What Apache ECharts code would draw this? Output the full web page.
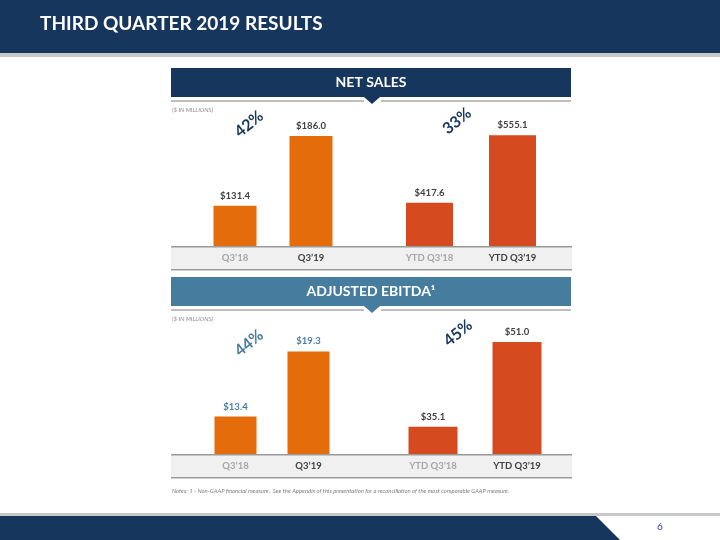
<!DOCTYPE html>
<html><head><meta charset="utf-8">
<script src="https://cdn.jsdelivr.net/npm/echarts@6/dist/echarts.min.js"></script>
<style>html,body{margin:0;padding:0;background:#fff}#c{width:720px;height:540px}</style>
</head><body><div id="c"></div>
<script>
// ---- data ----
var qtrCategories = ['Q3\u201918', 'Q3\u201919'];
var ytdCategories = ['YTD Q3\u201918', 'YTD Q3\u201919'];
var netSalesQtr = [131.4, 186.0];
var netSalesYtd = [417.6, 555.1];
var ebitdaQtr = [13.4, 19.3];
var ebitdaYtd = [35.1, 51.0];
var growthLabels = ['42%', '33%', '44%', '45%'];
var titleText = 'THIRD QUARTER 2019 RESULTS';
var panelTitles = ['NET SALES', 'ADJUSTED EBITDA\u00b9'];
var unitsText = '($ IN MILLIONS)';
var notesText = 'Notes: 1 - Non-GAAP financial measure.  See the Appendix of this presentation for a reconciliation of the most comparable GAAP measure.';
var pageNumber = '6';

var FONT = 'Lato, "Open Sans", sans-serif';
var NAVY = '#17365d', STEEL = '#467c9e', ORANGE = '#e46c0a', RED = '#d64a20';

var chart = echarts.init(document.getElementById('c'), null, {renderer: 'canvas'});

// grid specs
var grids = [
  {left: 197, width: 152, top: 118, height: 128},
  {left: 388, width: 166, top: 118, height: 128},
  {left: 199, width: 146, top: 326, height: 128},
  {left: 391, width: 168, top: 326, height: 128}
];
var yRanges = [[100, 200], [330, 590], [10, 21.6], [30, 54]];
var cats = [qtrCategories, ytdCategories, qtrCategories, ytdCategories];
var vals = [netSalesQtr, netSalesYtd, ebitdaQtr, ebitdaYtd];
var colors = [ORANGE, RED, ORANGE, RED];
var barW = [43, 47, 42, 49];
var labelColors = ['#404040', '#404040', '#4a7ea3', '#404040'];

var option = {
  animation: false,
  grid: grids.map(function (g) { return Object.assign({containLabel: false}, g); }),
  xAxis: cats.map(function (c, i) {
    return {
      type: 'category', gridIndex: i,
      data: c.map(function (name, j) {
        return {value: name, textStyle: {color: j === 0 ? '#a6a6a6' : '#404040'}};
      }),
      axisLine: {show: false}, axisTick: {show: false},
      axisLabel: {fontFamily: FONT, fontSize: 9.5, fontWeight: 'bold', margin: 7}
    };
  }),
  yAxis: yRanges.map(function (r, i) {
    return {type: 'value', gridIndex: i, min: r[0], max: r[1], show: false, splitLine: {show: false}};
  }),
  series: vals.map(function (v, i) {
    return {
      type: 'bar', xAxisIndex: i, yAxisIndex: i, data: v, barWidth: barW[i],
      itemStyle: {color: colors[i]}, z: 5,
      label: {
        show: true, position: 'top', distance: 5,
        fontFamily: FONT, fontSize: 9.5, fontWeight: 'bold', color: labelColors[i],
        formatter: function (p) { return '$' + p.value.toFixed(1); }
      }
    };
  }),
  graphic: []
};

var G = option.graphic;
// header
G.push({type: 'rect', shape: {x: 0, y: 0, width: 720, height: 53}, style: {fill: NAVY}, z: 1});
G.push({type: 'rect', shape: {x: 0, y: 53, width: 720, height: 4}, style: {fill: '#c8c8c8'}, z: 1});
G.push({type: 'text', left: 40, top: 14, style: {text: titleText, fill: '#fff', font: 'bold 19px ' + FONT}, z: 2});

// panels
function panel(y0, color, title, bandY) {
  G.push({type: 'rect', shape: {x: 171, y: y0, width: 400, height: 29}, style: {fill: color}, z: 1});
  G.push({type: 'text', x: 371, y: y0 + 14.5, style: {text: title, fill: '#fff', font: 'bold 14px ' + FONT, textAlign: 'center', textVerticalAlign: 'middle'}, z: 2});
  G.push({type: 'rect', shape: {x: 171, y: y0 + 32, width: 193, height: 2}, style: {fill: '#bfbfbf'}, z: 1});
  G.push({type: 'rect', shape: {x: 381, y: y0 + 32, width: 190, height: 2}, style: {fill: '#bfbfbf'}, z: 1});
  G.push({type: 'polygon', shape: {points: [[364, y0 + 29], [380, y0 + 29], [372, y0 + 36]]}, style: {fill: color}, z: 2});
  G.push({type: 'text', left: 172, top: y0 + 39, style: {text: unitsText, fill: '#8c8c8c', font: 'italic 6px ' + FONT}, z: 2});
  // category band
  G.push({type: 'rect', shape: {x: 171, y: bandY, width: 401, height: 24}, style: {fill: '#f0f0f0'}, z: 0});
  G.push({type: 'rect', shape: {x: 171, y: bandY, width: 401, height: 1.5}, style: {fill: '#9a9a9a'}, z: 6});
  G.push({type: 'rect', shape: {x: 171, y: bandY + 23, width: 401, height: 1.5}, style: {fill: '#9a9a9a'}, z: 6});
}
panel(68, NAVY, panelTitles[0], 246);
panel(277, STEEL, panelTitles[1], 454);

// growth labels
var gl = [[249, 124, NAVY], [457, 121, NAVY], [249, 343, STEEL], [458, 333, NAVY]];
gl.forEach(function (p, i) {
  G.push({type: 'text', x: p[0], y: p[1], rotation: 0.68,
    style: {text: growthLabels[i], fill: p[2], font: 'bold 16px ' + FONT, textAlign: 'center', textVerticalAlign: 'middle'}, z: 3});
});

// notes
G.push({type: 'text', left: 172, top: 488, style: {text: notesText, fill: '#7f7f7f', font: 'italic 5.9px ' + FONT}, z: 2});

// footer
G.push({type: 'rect', shape: {x: 0, y: 513, width: 720, height: 3}, style: {fill: '#c8c8c8'}, z: 1});
G.push({type: 'polygon', shape: {points: [[0, 516], [596, 516], [620, 540], [0, 540]]}, style: {fill: NAVY}, z: 2});
G.push({type: 'text', x: 660, y: 527, style: {text: pageNumber, fill: '#3333aa', font: '10px ' + FONT, textAlign: 'center', textVerticalAlign: 'middle'}, z: 2});

chart.setOption(option);
</script></body></html>
